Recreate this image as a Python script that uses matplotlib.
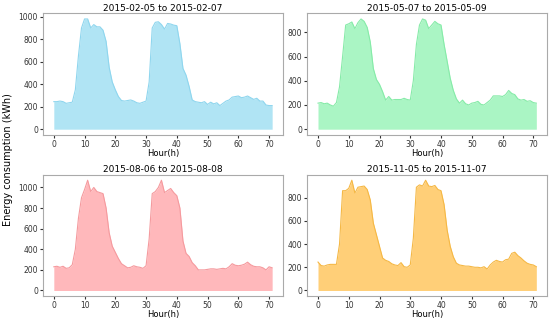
import numpy as np
import matplotlib
matplotlib.use("Agg")
import matplotlib.pyplot as plt

hours = np.arange(72)

titles = ["2015-02-05 to 2015-02-07", "2015-05-07 to 2015-05-09",
          "2015-08-06 to 2015-08-08", "2015-11-05 to 2015-11-07"]

feb = [245, 245, 250, 245, 230, 235, 240, 350, 650, 900, 980, 980, 900, 930, 910, 910,
       880, 780, 550, 420, 350, 290, 255, 250, 255, 260, 250, 235, 230, 240, 250, 420,
       900, 950, 955, 930, 890, 940, 935, 925, 920, 760, 540, 480, 380, 260, 245, 240,
       235, 245, 220, 240, 225, 235, 210, 230, 250, 260, 285, 290, 295, 280, 285, 295,
       280, 265, 275, 250, 250, 215, 210, 210]

may = [215, 220, 210, 215, 200, 190, 220, 350, 600, 860, 870, 885, 830, 880, 910, 890,
       840, 720, 500, 410, 370, 310, 240, 270, 240, 245, 245, 245, 255, 245, 240, 400,
       700, 860, 910, 900, 830, 860, 890, 870, 860, 700, 560, 420, 320, 250, 215, 240,
       210, 200, 215, 220, 230, 205, 200, 220, 240, 275, 275, 275, 270, 285, 320, 295,
       285, 250, 240, 245, 230, 235, 220, 215]

aug = [230, 235, 225, 235, 215, 220, 250, 400, 700, 900, 980, 1070, 960, 1000, 960, 950,
       940, 800, 560, 430, 370, 310, 260, 240, 220, 225, 240, 230, 225, 215, 240, 500,
       940, 960, 1000, 1070, 950, 970, 990, 950, 920, 800, 480, 360, 330, 270, 240, 200,
       200, 200, 205, 210, 210, 205, 210, 215, 210, 230, 260, 245, 240, 245, 255, 275,
       250, 235, 230, 230, 220, 200, 230, 220]

nov = [245, 215, 210, 220, 225, 225, 225, 400, 860, 860, 880, 950, 840, 890, 895, 900,
       870, 780, 580, 480, 380, 280, 260, 250, 230, 220, 215, 240, 205, 200, 220, 450,
       890, 910, 900, 950, 900, 895, 905, 870, 860, 740, 520, 380, 290, 235, 220, 215,
       210, 210, 205, 200, 200, 195, 205, 185, 220, 245, 260, 250, 245, 265, 270, 320,
       330, 300, 280, 255, 235, 225, 220, 205]

series = [feb, may, aug, nov]
fills = ["#b0e4f4", "#aaf5c4", "#ffb8bb", "#ffcf78"]
edges = ["#8fd6ee", "#86eba8", "#f59a9e", "#f5b845"]

fig, axes = plt.subplots(2, 2, figsize=(5.5, 3.2), dpi=100)
fig.subplots_adjust(left=0.078, right=0.995, top=0.958, bottom=0.075,
                    wspace=0.1, hspace=0.33)

for ax, y, t, fc, ec in zip(axes.flat, series, titles, fills, edges):
    ax.fill_between(hours, y, color=fc, linewidth=0)
    ax.plot(hours, y, color=ec, linewidth=0.8)
    ax.set_title(t, fontsize=6.5, pad=2)
    ax.set_xlabel("Hour(h)", fontsize=6, labelpad=0)
    ax.set_xticks(range(0, 71, 10))
    ax.tick_params(labelsize=5.5, length=2, pad=1.5, colors="#333333")
    for s in ax.spines.values():
        s.set_color("#aaaaaa")

fig.text(0.014, 0.5, "Energy consumption (kWh)", rotation=90,
         va="center", ha="center", fontsize=7)

fig.savefig("out.png")
